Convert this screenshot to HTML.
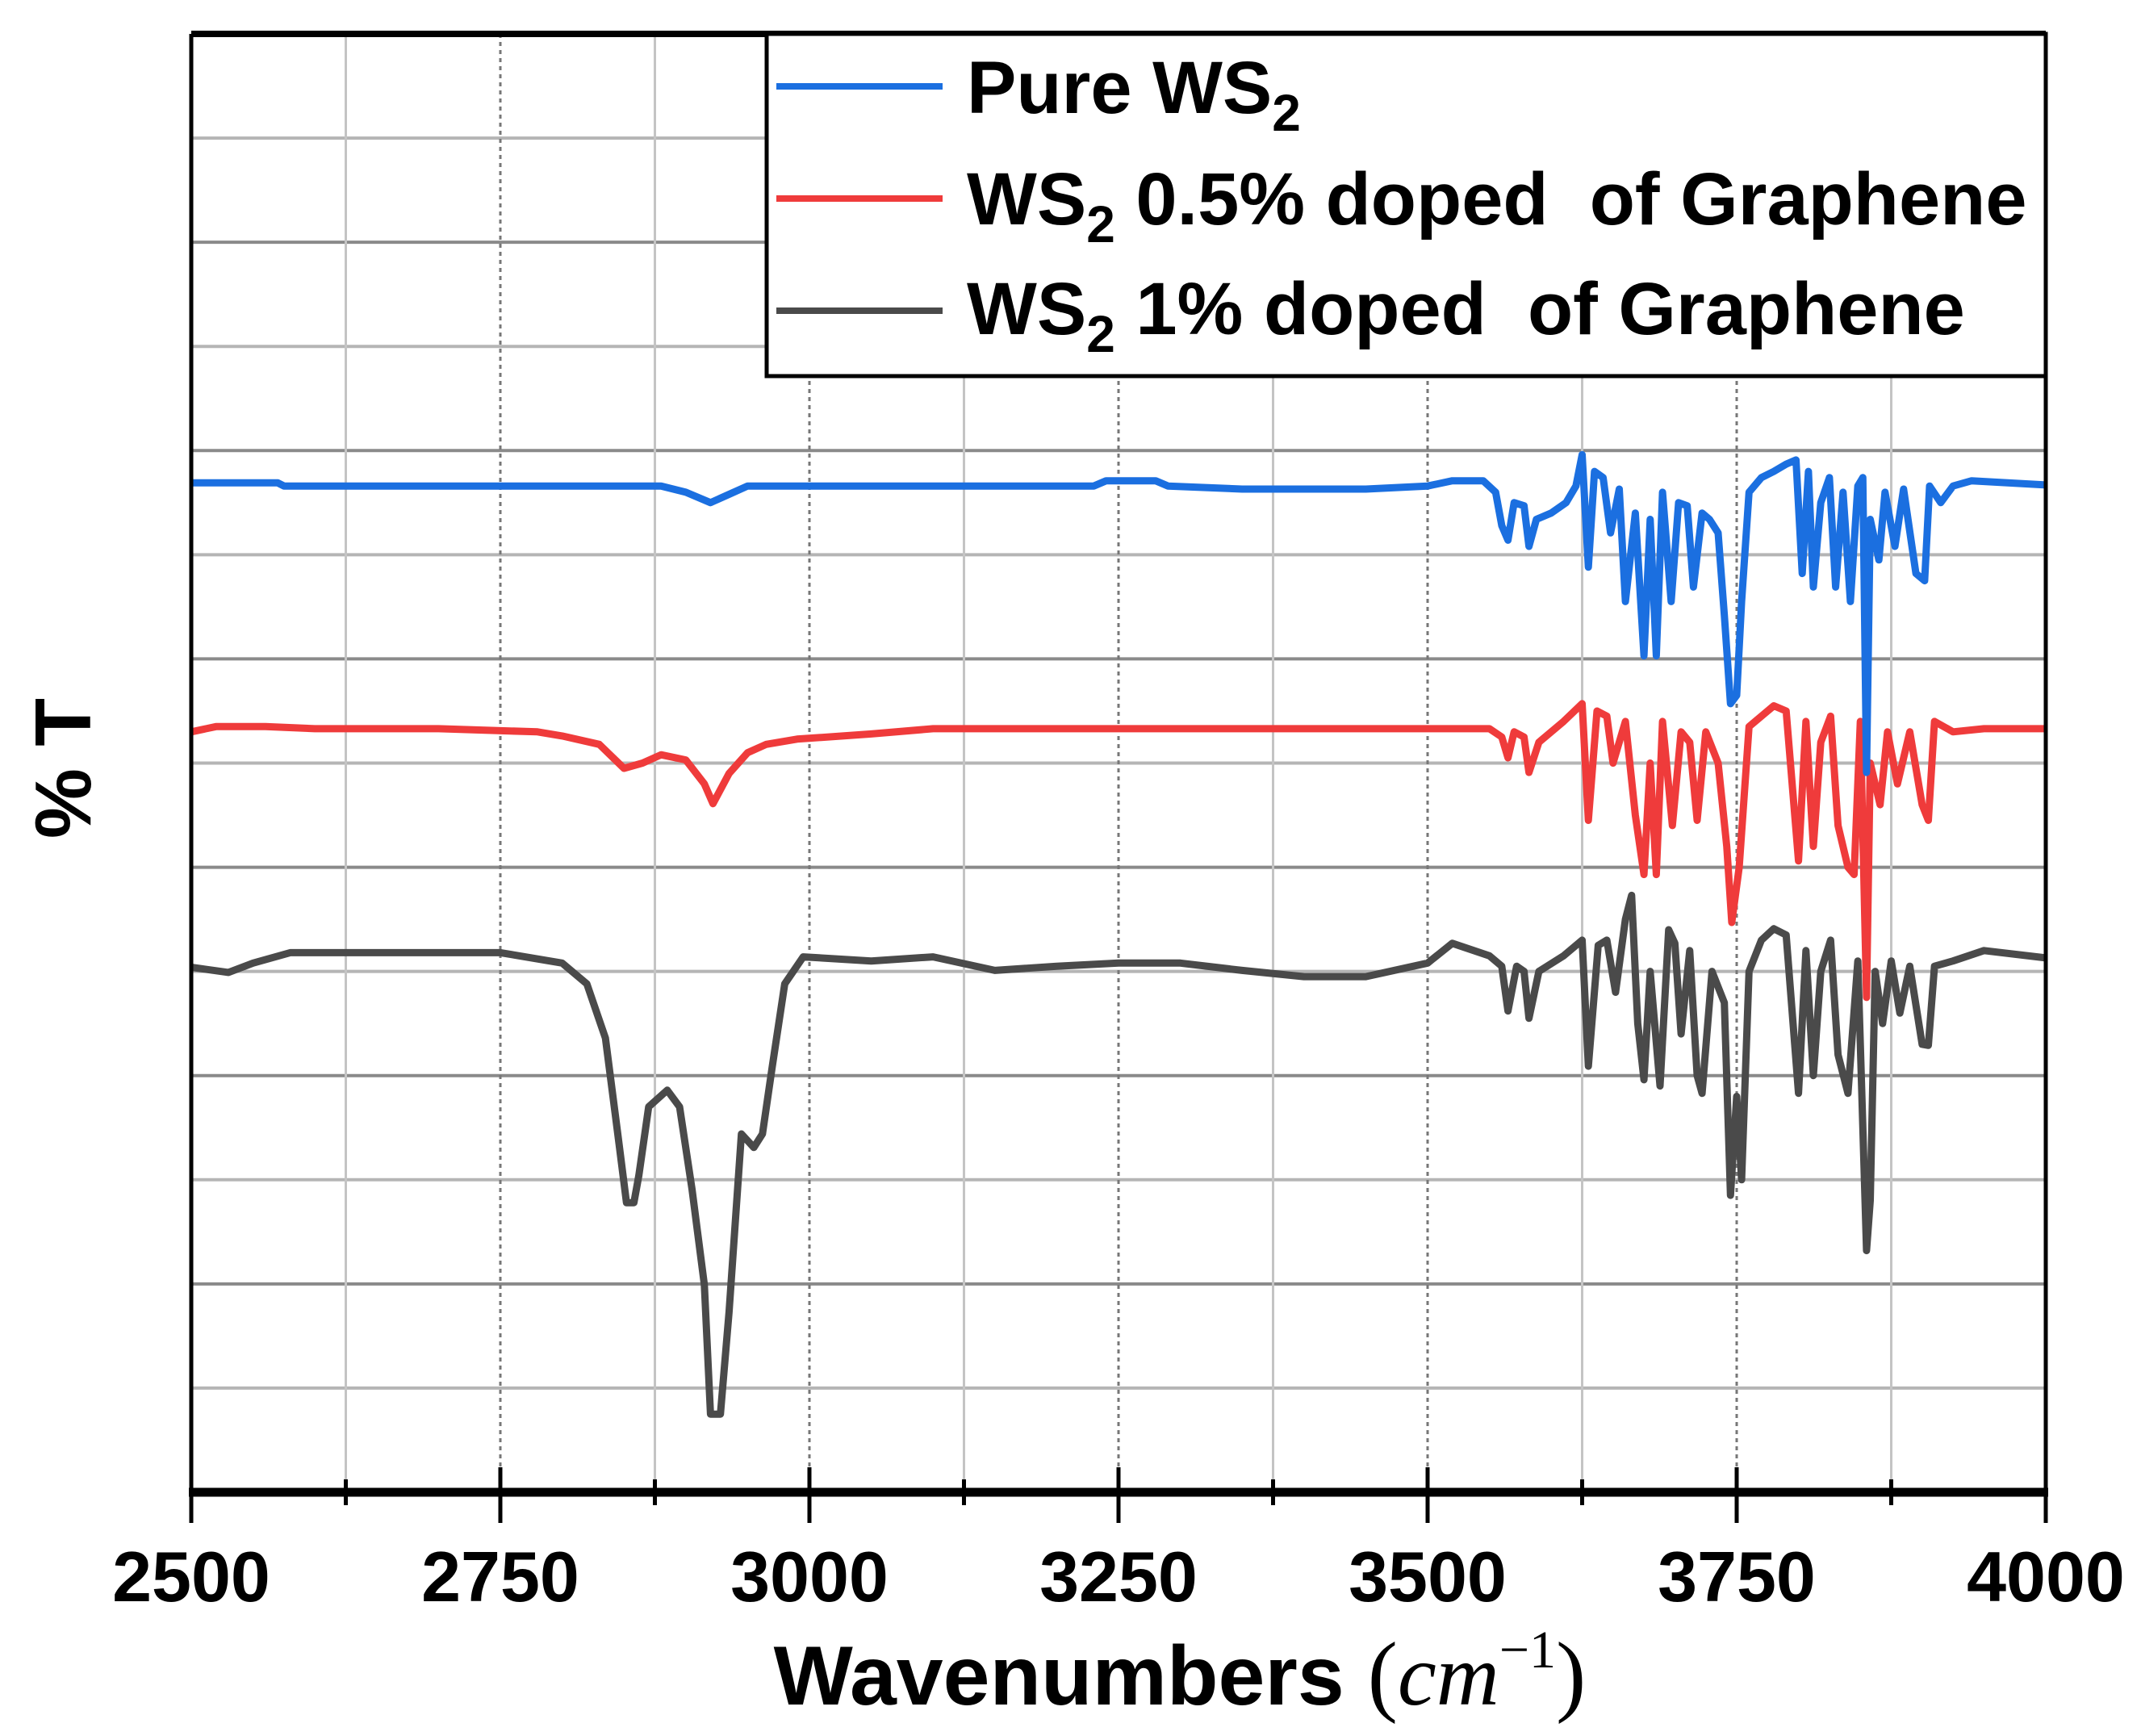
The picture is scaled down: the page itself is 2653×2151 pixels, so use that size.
<!DOCTYPE html>
<html><head><meta charset="utf-8"><style>
html,body{margin:0;padding:0;background:#fff;}
svg{display:block;font-family:"Liberation Sans",Arial,sans-serif;}
</style></head><body>
<svg id="chart" width="2653" height="2151" viewBox="0 0 2653 2151" xmlns="http://www.w3.org/2000/svg">
<rect width="2653" height="2151" fill="#fff"/>
<g id="grid"></g>
<g id="series"></g>
<g id="axes"></g>
<g id="legend">
  <rect x="950" y="42" width="1585" height="424" fill="#fff" stroke="#000" stroke-width="5"/>
  <line x1="962" y1="107" x2="1168" y2="107" stroke="#1b6fe0" stroke-width="8"/>
  <text x="1198" y="140" font-size="92" font-weight="bold">Pure WS<tspan font-size="64" dy="22">2</tspan></text>
  <line x1="962" y1="246" x2="1168" y2="246" stroke="#ef3b3b" stroke-width="8"/>
  <text x="1198" y="278" font-size="92" font-weight="bold" xml:space="preserve">WS<tspan font-size="64" dy="22">2</tspan><tspan dy="-22"> 0.5% doped  of Graphene</tspan></text>
  <line x1="962" y1="385" x2="1168" y2="385" stroke="#4a4a4a" stroke-width="8"/>
  <text x="1198" y="414" font-size="92" font-weight="bold" xml:space="preserve">WS<tspan font-size="64" dy="22">2</tspan><tspan dy="-22"> 1% doped  of Graphene</tspan></text>
</g>
<text transform="translate(112,952) rotate(-90)" text-anchor="middle" font-size="98" font-weight="bold">% T</text>
<text x="1462" y="2112" text-anchor="middle" font-size="104" font-weight="bold">Wavenumbers <tspan font-family="'Liberation Serif',serif" font-weight="normal" font-size="112">(</tspan><tspan font-family="'Liberation Serif',serif" font-style="italic" font-weight="normal" font-size="108">cm</tspan><tspan font-family="'Liberation Serif',serif" font-weight="normal" font-size="66" dy="-46">−1</tspan><tspan font-family="'Liberation Serif',serif" font-weight="normal" font-size="112" dy="46">)</tspan></text>
</svg>
<script>
const xTicks = [2500, 2750, 3000, 3250, 3500, 3750, 4000];
const xMinor = [2625, 2875, 3125, 3375, 3625, 3875];
const pureW = [2500,2570,2575,2880,2900,2920,2935,2950,3230,3240,3280,3290,3350,3450,3500,3520,3545,3555,3560,3565,3570,3578,3582,3588,3600,3612,3620,3625,3630,3635,3642,3648,3655,3660,3668,3675,3680,3685,3690,3697,3703,3710,3715,3722,3728,3735,3740,3745,3750,3754,3760,3770,3780,3790,3798,3803,3808,3812,3818,3825,3830,3836,3842,3848,3852,3855,3858,3865,3870,3878,3885,3895,3902,3906,3915,3925,3940,4000];
const pureT = [96.9,96.9,96.6,96.6,96.0,95.0,95.8,96.6,96.6,97.1,97.1,96.6,96.3,96.3,96.6,97.1,97.1,96.0,92.8,91.4,95.0,94.7,90.8,93.4,94.0,95.0,96.6,99.6,88.8,98.0,97.4,92.1,96.3,85.5,94.0,80.3,93.4,80.3,96.0,85.5,95.0,94.7,86.9,94.0,93.4,92.1,84.2,75.7,76.5,85.5,96.0,97.4,98.0,98.7,99.1,88.2,98.0,86.9,95.0,97.4,86.9,96.0,85.5,96.6,97.4,69.1,93.4,89.5,96.0,90.8,96.3,88.2,87.5,96.6,95.0,96.6,97.1,96.7];
const halfW = [2500,2520,2560,2600,2700,2780,2800,2830,2850,2865,2880,2900,2915,2922,2935,2950,2965,2990,3050,3100,3550,3560,3565,3570,3578,3582,3590,3610,3625,3630,3637,3645,3650,3660,3668,3675,3680,3685,3690,3698,3705,3712,3718,3725,3735,3742,3746,3752,3760,3770,3780,3790,3800,3806,3812,3818,3826,3832,3840,3845,3850,3855,3858,3866,3872,3880,3890,3900,3905,3910,3925,3950,4000];
const halfT = [73.0,73.5,73.5,73.3,73.3,73.0,72.6,71.8,69.5,70.0,70.8,70.3,68.0,66.1,69.0,71.0,71.8,72.3,72.8,73.3,73.3,72.5,70.5,73.0,72.5,69.1,72.0,74.0,75.7,64.5,75.0,74.5,70.0,74.0,65.0,59.3,70.0,59.3,74.0,64.0,73.0,72.0,64.5,73.0,70.0,62.0,54.7,60.0,73.5,74.5,75.5,75.0,60.6,74.0,62.0,72.0,74.5,64.0,60.0,59.3,74.0,47.5,70.0,66.0,73.0,68.0,73.0,66.0,64.5,74.0,73.0,73.3,73.3];
const oneW = [2500,2530,2550,2580,2750,2800,2820,2835,2845,2852,2858,2862,2870,2885,2895,2905,2915,2920,2928,2935,2945,2955,2962,2970,2980,2995,3050,3100,3150,3200,3250,3300,3350,3400,3450,3500,3520,3550,3560,3565,3572,3578,3582,3590,3610,3625,3630,3638,3645,3652,3660,3665,3670,3675,3680,3688,3695,3700,3705,3712,3718,3722,3730,3740,3745,3750,3754,3760,3770,3780,3790,3800,3806,3812,3818,3826,3832,3840,3848,3855,3858,3862,3868,3875,3882,3890,3900,3905,3910,3925,3950,4000];
const oneT = [50.4,49.9,50.8,51.8,51.8,50.8,48.8,43.6,34.4,27.8,27.8,30.4,37.0,38.6,37.0,29.1,19.9,7.5,7.5,17.3,34.4,33.1,34.4,40.9,48.8,51.4,51.0,51.4,50.1,50.5,50.8,50.8,50.1,49.5,49.5,50.8,52.7,51.5,50.5,46.2,50.5,50.0,45.5,50.0,51.5,53.0,40.9,52.5,53.0,48.0,55.0,57.3,45.0,39.6,50.0,39.0,54.0,52.7,44.0,52.0,40.0,38.3,50.0,47.0,28.5,38.0,30.0,50.0,53.0,54.1,53.5,38.3,52.0,40.0,50.0,53.0,42.0,38.3,51.0,23.2,28.0,50.0,45.0,51.0,46.0,50.5,43.0,42.9,50.5,51.0,52.0,51.3];
const yGrid = [10,20,30,40,50,60,70,80,90,100,110,120,130];

const L=237, R=2535, T=42, B=1849;
const xS = w => L + (w-2500)/(4000-2500)*(R-L);
const yS = v => B - v/140*(B-T);
const NS='http://www.w3.org/2000/svg';
function mk(tag, parent){const e=document.createElementNS(NS,tag);parent.appendChild(e);return e;}
const grid=document.getElementById('grid'), ser=document.getElementById('series'), ax=document.getElementById('axes');

yGrid.forEach(v=>{
  const l=mk('line',grid);
  
  
  l.setAttribute('x1',L);l.setAttribute('x2',R);l.setAttribute('y1',yS(v));l.setAttribute('y2',yS(v));
  l.setAttribute('stroke', (v%20===0)?'#8a8a8a':'#b5b5b5');l.setAttribute('stroke-width','4');
});
xMinor.forEach(w=>{
  const l=mk('line',grid);
  
  
  l.setAttribute('x1',xS(w));l.setAttribute('x2',xS(w));l.setAttribute('y1',T);l.setAttribute('y2',B);
  l.setAttribute('stroke','#c4c4c4');l.setAttribute('stroke-width','3');
});
xTicks.slice(1,-1).forEach(w=>{
  const l=mk('line',grid);
  
  
  l.setAttribute('x1',xS(w));l.setAttribute('x2',xS(w));l.setAttribute('y1',T);l.setAttribute('y2',B);
  l.setAttribute('stroke','#777');l.setAttribute('stroke-width','3');l.setAttribute('stroke-dasharray','5 5');
});

function drawSeries(ws, ts, color, name){
  const p=mk('path',ser);
  
  
  p.setAttribute('d', ws.map((w,i)=>(i?'L':'M')+xS(w).toFixed(1)+' '+yS(ts[i]).toFixed(1)).join(' '));
  p.setAttribute('fill','none');p.setAttribute('stroke',color);p.setAttribute('stroke-width','9');p.setAttribute('stroke-linejoin','round');
}
drawSeries(oneW, oneT, '#4a4a4a', 'series-ws2-1pct');
drawSeries(halfW, halfT, '#ef3b3b', 'series-ws2-0-5pct');
drawSeries(pureW, pureT, '#1b6fe0', 'series-pure-ws2');

[[L,T,R,T,8],[L,T,L,B,5],[R,T,R,B,5]].forEach(a=>{
  const l=mk('line',ax);
  
  
  l.setAttribute('x1',a[0]);l.setAttribute('y1',a[1]);l.setAttribute('x2',a[2]);l.setAttribute('y2',a[3]);
  l.setAttribute('stroke','#000');l.setAttribute('stroke-width',a[4]);
});
const xa=mk('line',ax);


xa.setAttribute('x1',L-3);xa.setAttribute('x2',R+3);xa.setAttribute('y1',B);xa.setAttribute('y2',B);
xa.setAttribute('stroke','#000');xa.setAttribute('stroke-width','11');
xMinor.forEach(w=>{
  const l=mk('line',ax);
  
  
  l.setAttribute('x1',xS(w));l.setAttribute('x2',xS(w));l.setAttribute('y1',1833);l.setAttribute('y2',1865);
  l.setAttribute('stroke','#000');l.setAttribute('stroke-width','5');
});
xTicks.forEach(w=>{
  const l=mk('line',ax);
  
  
  l.setAttribute('x1',xS(w));l.setAttribute('x2',xS(w));l.setAttribute('y1',1818);l.setAttribute('y2',1887);
  l.setAttribute('stroke','#000');l.setAttribute('stroke-width','5');
  const t=mk('text',ax);
  
  
  t.setAttribute('x',xS(w));t.setAttribute('y',1984);t.setAttribute('text-anchor','middle');
  t.setAttribute('font-size','88');t.setAttribute('font-weight','bold');
  t.textContent=w;
});
</script>
</body></html>
